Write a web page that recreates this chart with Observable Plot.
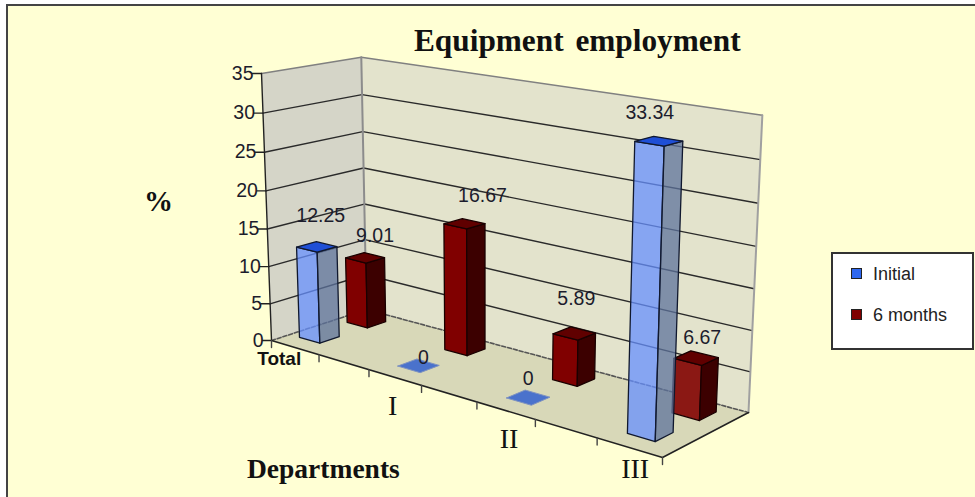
<!DOCTYPE html>
<html><head><meta charset="utf-8">
<script src="https://cdn.jsdelivr.net/npm/d3@7"></script>
<script src="https://cdn.jsdelivr.net/npm/@observablehq/plot@0.6"></script>
<style>
html,body{margin:0;padding:0;background:#fff;}
#frame{position:relative;width:975px;height:497px;overflow:hidden;}
#bg{position:absolute;left:6px;top:4px;width:975px;height:500px;background:#ffffd4;border-left:2px solid #444;border-top:2px solid #444;}
#plot{position:absolute;left:0;top:0;}
#plot svg{background:transparent;display:block;}
.serif{position:absolute;font-family:"Liberation Serif",serif;font-weight:bold;color:#111;white-space:nowrap;line-height:1;}
#legend{position:absolute;left:831px;top:252px;width:139px;height:94px;background:#fff;border:2px solid #333;box-sizing:content-box;}
.sw{position:absolute;left:18px;width:9px;height:9px;border:1.5px solid #222;}
.lt{position:absolute;left:40px;font:18px "Liberation Sans",sans-serif;color:#222;white-space:nowrap;overflow:hidden;line-height:20px;}
</style></head>
<body>
<div id="frame">
<div id="bg"></div>
<div id="plot"></div>
<div class="serif" style="left:414px;top:25px;font-size:31.3px;word-spacing:4px" id="title">Equipment employment</div>
<div class="serif" style="left:144px;top:187px;font-size:29px">%</div>
<div class="serif" style="left:247px;top:455px;font-size:27.5px">Departments</div>
<div id="legend"></div>
</div>
<script>
const categories = ["Total","I","II","III"];
const slots = [0,2,4,6];
const initial = [12.25,0,0,33.34];
const sixMonths = [9.01,16.67,5.89,6.67];
const valueTicks = [0,5,10,15,20,25,30,35];
const seriesNames = ["Initial","6 months"];

// perspective camera of the 3D chart
const A=[271,340],C=[662,457],D=[748,412],B=[366,309],V=[485,6061],slotCount=7,maxV=35,rise=-0.0446;
const dx1=C[0]-D[0],dx2=B[0]-D[0],dy1=C[1]-D[1],dy2=B[1]-D[1];
const sx=A[0]-C[0]+D[0]-B[0],sy=A[1]-C[1]+D[1]-B[1];
const den=dx1*dy2-dx2*dy1;
const g=(sx*dy2-dx2*sy)/den,h=(dx1*sy-sx*dy1)/den;
function P(u,d,v){
  const t=v/maxV*rise;
  const X=(C[0]-A[0]+g*C[0])*u+(B[0]-A[0]+h*B[0])*d+A[0]+t*V[0];
  const Y=(C[1]-A[1]+g*C[1])*u+(B[1]-A[1]+h*B[1])*d+A[1]+t*V[1];
  const W=g*u+h*d+1+t;
  return {x:X/W,y:Y/W};
}
const poly=(pts,o)=>Plot.line([...pts,pts[0]],{x:"x",y:"y",...o});
const seg=(a,b,o)=>Plot.line([a,b],{x:"x",y:"y",...o});

const marks=[];
// walls and floor
marks.push(poly([P(0,0,0),P(0,1,0),P(0,1,maxV),P(0,0,maxV)],{fill:"#d5d5c8",stroke:"none"}));
marks.push(poly([P(0,1,0),P(1,1,0),P(1,1,maxV),P(0,1,maxV)],{fill:"#e3e3cc",stroke:"none"}));
marks.push(poly([P(0,0,0),P(1,0,0),P(1,1,0),P(0,1,0)],{fill:"#d8d8b8",stroke:"none"}));
// grid
for(const v of valueTicks){
  if(v===0||v===maxV) continue;
  marks.push(Plot.line([P(0,0,v),P(0,1,v),P(1,1,v)],{x:"x",y:"y",stroke:"#2a2a2a",strokeWidth:1.4}));
}
marks.push(Plot.line([P(0,0,maxV),P(0,1,maxV),P(1,1,maxV)],{x:"x",y:"y",stroke:"#808080",strokeWidth:1.6}));
marks.push(Plot.line([P(0,0,0),P(0,1,0),P(1,1,0)],{x:"x",y:"y",stroke:"#555",strokeWidth:1.6,strokeDasharray:"4,2"}));
marks.push(seg(P(0,1,0),P(0,1,maxV),{stroke:"#8c8c8c",strokeWidth:2}));
marks.push(seg(P(1,1,0),P(1,1,maxV),{stroke:"#a0a0a0",strokeWidth:2}));
// axes
marks.push(seg(P(0,0,0),P(0,0,maxV),{stroke:"#222",strokeWidth:1.4}));
marks.push(Plot.line([P(0,0,0),P(1,0,0),P(1,1,0)],{x:"x",y:"y",stroke:"#222",strokeWidth:1.5}));
marks.push(Plot.vector(valueTicks.map(v=>P(0,0,v)),{x:"x",y:"y",length:9,rotate:270,anchor:"start",shape:"spike",r:0,stroke:"#222",strokeWidth:1.4}));
marks.push(Plot.vector(d3.range(slotCount+1).map(i=>P(i/slotCount,0,0)),{x:"x",y:"y",length:7,rotate:180,anchor:"start",shape:"spike",r:0,stroke:"#444",strokeWidth:1.4}));

// bars
const blueOff=0.42,redOff=0.447,hw=0.215;
function bar(s,off,d0,d1,v,col,frontFill){
  const u0=(s+off-hw)/slotCount,u1=(s+off+hw)/slotCount;
  const o=col.o;
  const sk={stroke:col.stroke,strokeWidth:1.3};
  if(v>0){
    marks.push(poly([P(u0,d0,0),P(u1,d0,0),P(u1,d0,v),P(u0,d0,v)],{fill:frontFill||col.front,fillOpacity:o,...sk}));
    marks.push(poly([P(u1,d0,0),P(u1,d1,0),P(u1,d1,v),P(u1,d0,v)],{fill:col.side,fillOpacity:o,...sk}));
    marks.push(poly([P(u0,d0,v),P(u1,d0,v),P(u1,d1,v),P(u0,d1,v)],{fill:col.top,...sk}));
  } else {
    marks.push(poly([P(u0,d0,v),P(u1,d0,v),P(u1,d1,v),P(u0,d1,v)],{fill:col.flat,stroke:"#7f93c0",strokeWidth:1}));
  }
}
const red={front:"#800000",side:"#3c0000",top:"#600000",stroke:"#1a0000",o:1};
const blue={front:"#6790ff",side:"#5d739c",top:"#1f4fd6",flat:"#4a72cc",stroke:"#10182e",o:0.75};
const redRow=[0.67,0.87],blueRow=[0.185,0.385];
sixMonths.forEach((v,i)=>bar(slots[i],redOff,...redRow,v,red,i===3?"#8b1814":null));
initial.forEach((v,i)=>bar(slots[i],blueOff,...blueRow,v,blue));

// text
const sans={fontFamily:"Liberation Sans, sans-serif",fill:"#1c1c2c"};
marks.push(Plot.text(valueTicks.map(v=>({...P(0,0,v),v})),{x:"x",y:"y",text:d=>String(d.v),textAnchor:"end",dx:-8,fontSize:19.5,...sans}));
const catOffsets=[[-12,13],[2,30],[8,30],[11,23]];
categories.forEach((c,i)=>{
  const p=P((slots[i]+blueOff)/slotCount,0,0);
  marks.push(Plot.text([{...p,c}],{x:"x",y:"y",text:"c",dx:catOffsets[i][0],dy:catOffsets[i][1],
    ...(i===0?{fontFamily:"Liberation Sans, sans-serif",fontWeight:"bold",fontSize:19,fill:"#111"}
            :{fontFamily:"Liberation Serif, serif",fontSize:28,fill:"#111"})}));
});
const blueOffsets=[[4,-31],[5,-8],[0,-19],[-9,-28]];
const redOffsets=[[10,-22],[18,-28],[2,-35],[6,-20]];
function valLabels(vals,off,row,offs){
  vals.forEach((v,i)=>{
    const p=P((slots[i]+off)/slotCount,(row[0]+row[1])/2,v);
    marks.push(Plot.text([{...p,v}],{x:"x",y:"y",text:"v",dx:offs[i][0],dy:offs[i][1],fontSize:19.5,...sans}));
  });
}
valLabels(initial,blueOff,blueRow,blueOffsets);
valLabels(sixMonths,redOff,redRow,redOffsets);

const chart=Plot.plot({width:975,height:497,margin:0,
  x:{domain:[0,975],range:[0,975],axis:null},y:{domain:[0,497],range:[0,497],axis:null},
  marks});
document.getElementById("plot").append(chart);

// legend
const lg=document.getElementById("legend");
[[seriesNames[0],"#2f68f0",14,44],[seriesNames[1],"#800000",55,74]].forEach(([t,c,top,w])=>{
  const s=document.createElement("div");s.className="sw";s.style.top=top+"px";s.style.background=c;lg.append(s);
  const l=document.createElement("div");l.className="lt";l.textContent=t;l.style.top=(top-4)+"px";l.style.width=w+"px";lg.append(l);
});
</script>
</body></html>
